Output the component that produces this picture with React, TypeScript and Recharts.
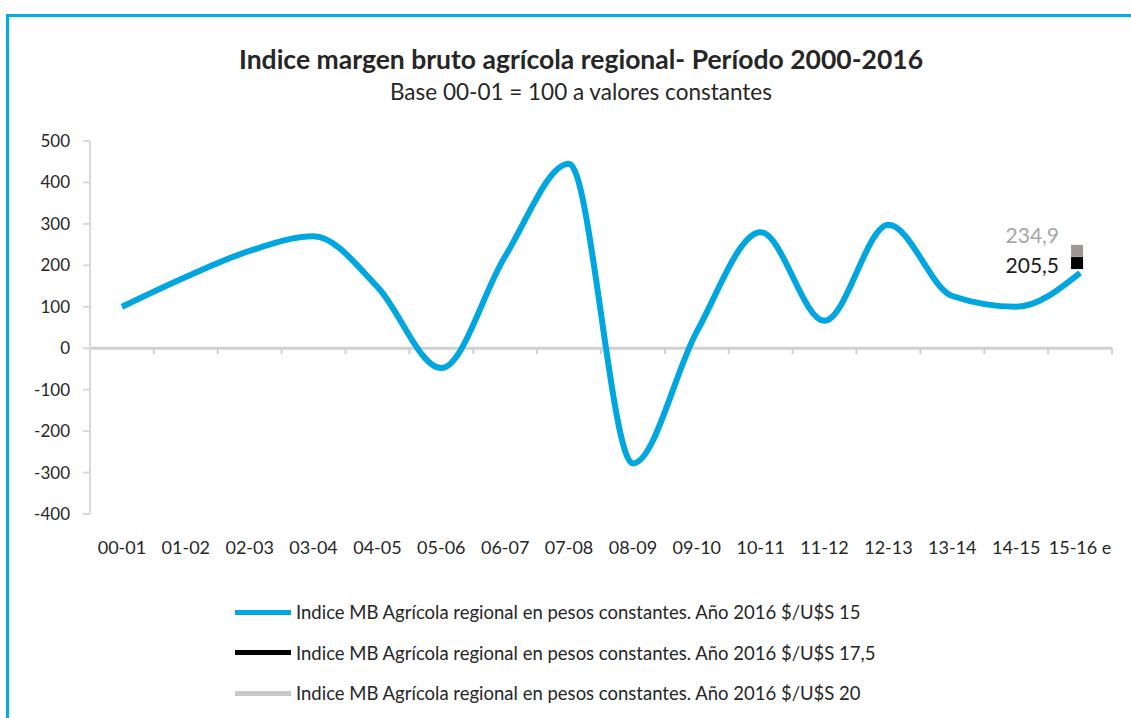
import { LineChart, Line, XAxis, YAxis, ReferenceLine, LabelList } from "recharts"

const categories = ["00-01", "01-02", "02-03", "03-04", "04-05", "05-06", "06-07", "07-08", "08-09", "09-10", "10-11", "11-12", "12-13", "13-14", "14-15", "15-16 e"]
const mbPesos15 = [100, 172, 235, 270, 148, -48, 222, 445, -278, 40, 280, 66, 298, 126, 100, 182]
const mbPesos175 = [null, null, null, null, null, null, null, null, null, null, null, null, null, null, null, 205.5]
const mbPesos20 = [null, null, null, null, null, null, null, null, null, null, null, null, null, null, null, 234.9]
const yTicks = [-400, -300, -200, -100, 0, 100, 200, 300, 400, 500]

const seriesNames = [
  "Indice MB Agrícola regional en pesos constantes. Año 2016 $/U$S 15",
  "Indice MB Agrícola regional en pesos constantes. Año 2016 $/U$S 17,5",
  "Indice MB Agrícola regional en pesos constantes. Año 2016 $/U$S 20",
]
const legendColors = ["#00a6e0", "#000000", "#c8c8c8"]

const data = categories.map((cat, i) => ({
  cat,
  s15: mbPesos15[i],
  s175: mbPesos175[i],
  s20: mbPesos20[i],
}))

const FONT = "Lato, 'Open Sans', sans-serif"
const fmt = (v: number) => v.toFixed(1).replace(".", ",")

function squareDot(color: string) {
  return (props: any) => {
    const { cx, cy, value, index } = props
    if (value == null || cx == null) return <g key={`d-${index}`} />
    return <rect key={`d-${index}`} x={cx - 9} y={cy - 6} width={12} height={12} fill={color} />
  }
}

function sideLabel(color: string, dy: number) {
  return (props: any) => {
    const { x, y, value } = props
    if (value == null) return null
    return (
      <text x={x - 21} y={y + dy} textAnchor="end" dominantBaseline="middle" fill={color} fontSize={21} fontFamily={FONT}>
        {fmt(value)}
      </text>
    )
  }
}

export default function App() {
  return (
    <div style={{ position: "absolute", left: 0, top: 0, width: 1131, height: 718, background: "#fff", overflow: "hidden" }}>
      <div style={{ position: "absolute", left: 6, top: 14, width: 1140, height: 720, borderTop: "3px solid #00aee6", borderLeft: "3px solid #00aee6" }} />
      <div style={{ position: "absolute", left: 0, width: 1162, top: 43, textAlign: "center", fontFamily: FONT, color: "#262626" }}>
        <div style={{ fontSize: 26.5, fontWeight: 700, lineHeight: "32px" }}>Indice margen bruto agrícola regional- Período 2000-2016</div>
        <div style={{ fontSize: 22.5, lineHeight: "28px", marginTop: 3 }}>Base 00-01 = 100 a valores constantes</div>
      </div>

      <div style={{ position: "absolute", left: 0, top: 0 }}>
        <LineChart width={1131} height={718} data={data} margin={{ top: 141, right: 19, bottom: 174, left: 20 }}>
          <XAxis
            dataKey="cat"
            scale="band"
            axisLine={false}
            tickLine={false}
            tickSize={0}
            tickMargin={27}
            height={30}
            interval={0}
            tick={{ fill: "#262626", fontSize: 18, fontFamily: FONT }}
          />
          <YAxis
            domain={[-400, 500]}
            ticks={yTicks}
            width={70}
            interval={0}
            axisLine={{ stroke: "#d9d9d9", strokeWidth: 2 }}
            tickLine={{ stroke: "#d9d9d9", strokeWidth: 2 }}
            tickSize={7}
            tickMargin={13}
            tick={{ fill: "#262626", fontSize: 17, fontFamily: FONT }}
          />
          <ReferenceLine y={0} stroke="#d0d0d0" strokeWidth={3} />
          {categories.map((c) => (
            <ReferenceLine key={`t-${c}`} position="start" segment={[{ x: c, y: 0 }, { x: c, y: -14 }]} stroke="#d0d0d0" strokeWidth={2} />
          ))}
          <ReferenceLine position="end" segment={[{ x: categories[categories.length - 1], y: 0 }, { x: categories[categories.length - 1], y: -14 }]} stroke="#d0d0d0" strokeWidth={2} />
          <Line
            dataKey="s15"
            type="monotone"
            stroke="#00a6e0"
            strokeWidth={6}
            dot={false}
            activeDot={false}
            isAnimationActive={false}
          />
          <Line dataKey="s175" stroke="#000" strokeWidth={0} dot={squareDot("#000000")} activeDot={false} isAnimationActive={false}>
            <LabelList dataKey="s175" content={sideLabel("#1a1a1a", 5)} />
          </Line>
          <Line dataKey="s20" stroke="#9e9694" strokeWidth={0} dot={squareDot("#9e9694")} activeDot={false} isAnimationActive={false}>
            <LabelList dataKey="s20" content={sideLabel("#a6a6a6", -13)} />
          </Line>
        </LineChart>
      </div>

      <div style={{ position: "absolute", left: 235, top: 592, fontFamily: FONT, fontSize: 18.5, color: "#262626" }}>
        {seriesNames.map((name, i) => (
          <div key={name} style={{ display: "flex", alignItems: "center", height: 40.5 }}>
            <div style={{ width: 56, height: 5, background: legendColors[i], marginRight: 5 }} />
            <span>{name}</span>
          </div>
        ))}
      </div>
    </div>
  )
}
